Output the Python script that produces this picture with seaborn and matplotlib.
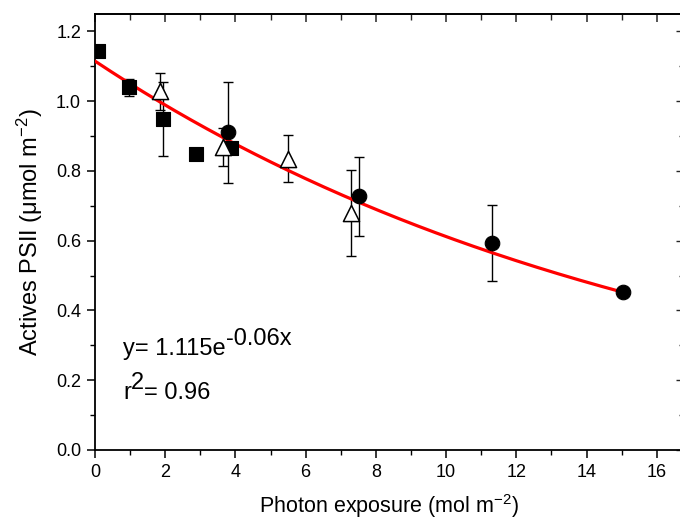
import numpy as np
import pandas as pd
import matplotlib
matplotlib.use("Agg")
import matplotlib.pyplot as plt
from matplotlib.ticker import MultipleLocator
import seaborn as sns

# ---- data ----
sq_x = [0.08, 0.97, 1.94, 2.88, 3.87]
sq_y = [1.145, 1.04, 0.948, 0.848, 0.867]
sq_err = [0.0, 0.025, 0.106, 0.0, 0.0]

tri_x = [1.85, 3.65, 5.5, 7.3]
tri_y = [1.028, 0.868, 0.835, 0.679]
tri_err = [0.054, 0.054, 0.068, 0.123]

cir_x = [3.79, 7.52, 11.3, 15.04]
cir_y = [0.911, 0.727, 0.593, 0.452]
cir_err = [0.145, 0.113, 0.109, 0.0]

fit_a = 1.115
fit_k = -0.06
fit_xmax = 15.1

x_ticks = [0, 2, 4, 6, 8, 10, 12, 14, 16]
y_ticks = [0.0, 0.2, 0.4, 0.6, 0.8, 1.0, 1.2]

# ---- style ----
sns.set_theme(style="ticks")
plt.rcParams["font.family"] = ["Liberation Sans", "DejaVu Sans"]
plt.rcParams["mathtext.fontset"] = "custom"
plt.rcParams["mathtext.rm"] = "Liberation Sans"
plt.rcParams["mathtext.it"] = "Liberation Sans:italic"
plt.rcParams["mathtext.default"] = "regular"

fig = plt.figure(figsize=(6.8, 5.22), dpi=100)
ax = fig.add_axes([95 / 680, 72 / 522, (682 - 95) / 680, (450 - 14) / 522])

sq = pd.DataFrame({"x": sq_x, "y": sq_y, "err": sq_err})
tri = pd.DataFrame({"x": tri_x, "y": tri_y, "err": tri_err})
cir = pd.DataFrame({"x": cir_x, "y": cir_y, "err": cir_err})

# error bars
for df in (sq, tri, cir):
    d = df[df["err"] > 0]
    ax.errorbar(d["x"], d["y"], yerr=d["err"], fmt="none", ecolor="black",
                elinewidth=1.0, capsize=3.6, capthick=1.0, zorder=2)

# fitted curve
fx = np.linspace(0, fit_xmax, 200)
fit = pd.DataFrame({"x": fx, "y": fit_a * np.exp(fit_k * fx)})
sns.lineplot(data=fit, x="x", y="y", color="#ff0000", linewidth=2.3, ax=ax, zorder=3)

# markers
sns.scatterplot(data=sq, x="x", y="y", marker="s", s=95, color="black",
                edgecolor="black", linewidth=0.8, ax=ax, zorder=4)
sns.scatterplot(data=tri, x="x", y="y", marker="^", s=135, color="white",
                edgecolor="black", linewidth=1.1, ax=ax, zorder=4)
sns.scatterplot(data=cir, x="x", y="y", marker="o", s=110, color="black",
                edgecolor="black", linewidth=0.8, ax=ax, zorder=5)

# axes
ax.set_xlim(0, 16.72)
ax.set_ylim(0, 1.25)
ax.set_xticks(x_ticks)
ax.set_yticks(y_ticks)
ax.set_xticklabels([str(v) for v in x_ticks])
ax.set_yticklabels([f"{v:.1f}" for v in y_ticks])
ax.xaxis.set_minor_locator(MultipleLocator(1))
ax.yaxis.set_minor_locator(MultipleLocator(0.1))
ax.tick_params(axis="both", which="major", direction="out", length=6, width=1.1,
               labelsize=13, color="black", labelcolor="black", pad=4)
ax.tick_params(axis="both", which="minor", direction="out", length=3.5, width=1.0,
               color="black")
for s in ax.spines.values():
    s.set_visible(True)
    s.set_linewidth(1.3)
    s.set_color("black")

top = ax.secondary_xaxis("top")
top.set_xticks(x_ticks)
top.xaxis.set_minor_locator(MultipleLocator(1))
top.tick_params(which="major", direction="in", length=6, width=1.1, labeltop=False)
top.tick_params(which="minor", direction="in", length=4, width=1.0)
top.spines["top"].set_linewidth(1.3)

right = ax.secondary_yaxis("right")
right.set_yticks(y_ticks)
right.yaxis.set_minor_locator(MultipleLocator(0.1))
right.tick_params(which="major", direction="in", length=4, width=1.0, labelright=False)
right.tick_params(which="minor", direction="in", length=2, width=1.0)

ax.set_xlabel("Photon exposure (mol m$^{-2}$)", fontsize=15.5, color="black", labelpad=8)
ax.set_ylabel("Actives PSII ($\\mu$mol m$^{-2}$)", fontsize=17, color="black", labelpad=8)

# equation text
eq_fs = 17
y1 = 0.272
y2 = 0.145
t1 = ax.text(0.8, y1, "y= 1.115e", fontsize=eq_fs, color="black", va="baseline", ha="left")
ax.annotate("-0.06x", xy=(1, y1), xycoords=(t1, "data"), xytext=(0, 10),
            textcoords="offset pixels", fontsize=eq_fs, color="black",
            va="baseline", ha="left")
t2 = ax.text(0.8, y2, "r", fontsize=eq_fs, color="black", va="baseline", ha="left")
t3 = ax.annotate("2", xy=(1, y2), xycoords=(t2, "data"), xytext=(0, 10),
                 textcoords="offset pixels", fontsize=eq_fs, color="black",
                 va="baseline", ha="left")
ax.annotate("= 0.96", xy=(1, y2), xycoords=(t3, "data"), xytext=(0, 0),
            textcoords="offset pixels", fontsize=eq_fs, color="black",
            va="baseline", ha="left")

fig.savefig("out.png", dpi=100)
